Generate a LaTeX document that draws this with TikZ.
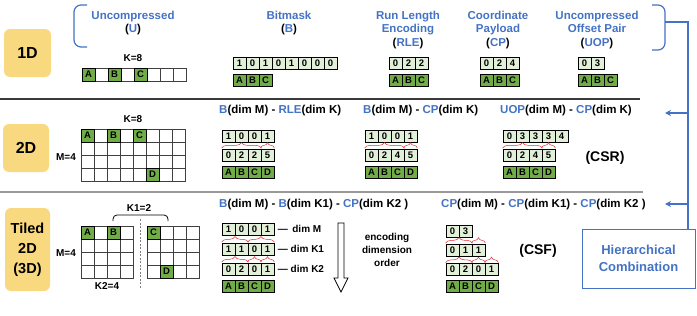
\documentclass[tikz,border=0pt]{standalone}
\usepackage{fontspec}
\setmainfont{Liberation Sans}
\usetikzlibrary{arrows.meta,calc,positioning,decorations.pathreplacing}
\definecolor{ink}{HTML}{4472C4}
\definecolor{leaf}{HTML}{70AD47}
\definecolor{pale}{HTML}{E2F0D9}
\definecolor{sand}{HTML}{F9D97F}
\definecolor{rule}{HTML}{3A3A3A}
\definecolor{link}{HTML}{E03030}
\newcommand\hl[1]{\textcolor{ink}{#1}}
\newcommand\cellrow[5]{\foreach \v [count=\i] in {#5}
  \node[#4] (#1-\i) at ({#2+13*\i-6.5},#3) {\v};}
\newcommand\cellgrid[5]{\foreach \r in {1,...,#5} \foreach \c in {1,...,#4}
  \node[gridcell] (#1-\r-\c) at ({#2+13*\c-6.5},{#3+13*\r-6.5}) {};}
\tikzset{
  fmtbox/.style={fill=sand,rounded corners=6pt,align=center,font=\bfseries\fontsize{16}{20}\selectfont},
  title/.style={anchor=north,align=center,inner sep=0pt,font=\bfseries\fontsize{11.5}{13.5}\selectfont},
  bitcell/.style={draw,fill=pale,minimum width=13pt,minimum height=12pt,inner sep=0pt,line width=.8pt,font=\bfseries\fontsize{9.5}{10}\selectfont},
  valcell/.style={bitcell,fill=leaf},
  gridcell/.style={draw=black!75,minimum size=13pt,inner sep=0pt,line width=.8pt},
  hit/.style={valcell,minimum height=13pt},
  ptr/.style={link,decorate,decoration={brace,amplitude=5.5pt},line width=.5pt},
  small/.style={font=\bfseries\fontsize{10}{13}\selectfont},
  tag/.style={font=\bfseries\fontsize{14}{17}\selectfont},
  feed/.style={ink,line width=1.2pt},
}
\begin{document}
\begin{tikzpicture}[x=1pt,y=-1pt,>={Stealth[length=6pt,width=6pt]}]
\useasboundingbox (0,0) rectangle (697,316);
% 1D
\node[fmtbox,minimum width=47pt,minimum height=48pt] (d1) at (27.5,53) {1D};
\draw[feed,rounded corners=7pt] (87,5) -- (74,5) -- (74,47) -- (87,47);
\node[title] (tu) at (133,10.5) {\hl{Uncompressed}\\(\hl{U})};
\node[title] (tb) at (289,10.5) {\hl{Bitmask}\\(\hl{B})};
\node[title] (tr) at (408,10.5) {\hl{Run Length}\\\hl{Encoding}\\(\hl{RLE})};
\node[title] (tc) at (498,10.5) {\hl{Coordinate}\\\hl{Payload}\\(\hl{CP})};
\node[title] (to) at (597,10.5) {\hl{Uncompressed}\\\hl{Offset Pair}\\(\hl{UOP})};
\draw[feed,rounded corners=7pt] (652,5) -- (665,5) -- (665,50) -- (652,50);
\node[small] (k1d) at (133,58) {K=8};
\cellgrid{ug}{82}{68}{8}{1}
\node[hit] (uA) at (ug-1-1) {A};
\node[hit] (uB) at (ug-1-3) {B};
\node[hit] (uC) at (ug-1-5) {C};
\cellrow{bm}{233}{63}{bitcell}{1,0,1,0,1,0,0,0}
\cellrow{bv}{233}{80}{valcell}{A,B,C}
\cellrow{rl}{389}{63}{bitcell}{0,2,2}
\cellrow{rv}{389}{80}{valcell}{A,B,C}
\cellrow{cp}{480}{63}{bitcell}{0,2,4}
\cellrow{cv}{480}{80}{valcell}{A,B,C}
\cellrow{op}{578}{63}{bitcell}{0,3}
\cellrow{ov}{578}{80}{valcell}{A,B,C}
\draw[rule,line width=1.2pt] (0,99) -- (640,99);
% 2D
\node[fmtbox,minimum width=46pt,minimum height=48pt] (d2) at (26,148) {2D};
\node[small] (k2d) at (133,119) {K=8};
\node[small] (m2d) at (66,157) {M=4};
\cellgrid{mg}{81}{129}{8}{4}
\node[hit] (mA) at (mg-1-1) {A};
\node[hit] (mB) at (mg-1-3) {B};
\node[hit] (mC) at (mg-1-5) {C};
\node[hit] (mD) at (mg-4-6) {D};
\node[title,anchor=west] (t2a) at (219,111) {\hl{B}(dim M) - \hl{RLE}(dim K)};
\cellrow{am}{222}{136}{bitcell}{1,0,0,1}
\cellrow{ak}{222}{155}{bitcell}{0,2,2,5}
\cellrow{av}{222}{172}{valcell}{A,B,C,D}
\draw[ptr] ([yshift=.5pt]ak-1.north west) -- ([yshift=.5pt]ak-3.north east);
\draw[ptr] ([yshift=.5pt]ak-4.north west) -- ([yshift=.5pt]ak-4.north east);
\node[title,anchor=west] (t2b) at (363,111) {\hl{B}(dim M) - \hl{CP}(dim K)};
\cellrow{bm2}{365}{136}{bitcell}{1,0,0,1}
\cellrow{bk}{365}{155}{bitcell}{0,2,4,5}
\cellrow{bv2}{365}{172}{valcell}{A,B,C,D}
\draw[ptr] ([yshift=.5pt]bk-1.north west) -- ([yshift=.5pt]bk-3.north east);
\draw[ptr] ([yshift=.5pt]bk-4.north west) -- ([yshift=.5pt]bk-4.north east);
\node[title,anchor=west] (t2c) at (500,111) {\hl{UOP}(dim M) - \hl{CP}(dim K)};
\cellrow{cm}{503}{136}{bitcell}{0,3,3,3,4}
\cellrow{ck}{503}{155}{bitcell}{0,2,4,5}
\cellrow{cv2}{503}{172}{valcell}{A,B,C,D}
\draw[ptr] ([yshift=.5pt]ck-1.north west) -- ([yshift=.5pt]ck-3.north east);
\draw[ptr] ([yshift=.5pt]ck-4.north west) -- ([yshift=.5pt]ck-4.north east);
\node[tag] (csr) at (605,158) {(CSR)};
\draw[black!40,line width=1.5pt] (0,192) -- (643,192);
% tiled 2D
\node[fmtbox,minimum width=45pt,minimum height=83pt,font=\bfseries\fontsize{14.5}{20}\selectfont] (d3) at (27.5,249.5) {Tiled\\2D\\(3D)};
\node[small] (k13) at (139,208) {K1=2};
\draw[line width=.8pt,rounded corners=4pt] (113,221) -- (113,215) -- (168,215) -- (168,221);
\draw[black!50,line width=.8pt,dash pattern=on 2pt off 1.5pt] (140,219) -- (140,288);
\node[small] (m3) at (66,253) {M=4};
\node[small] (k23) at (107,286) {K2=4};
\cellgrid{lg}{81}{226}{4}{4}
\cellgrid{rg}{147}{226}{4}{4}
\node[hit] (lA) at (lg-1-1) {A};
\node[hit] (lB) at (lg-1-3) {B};
\node[hit] (rC) at (rg-1-1) {C};
\node[hit] (rD) at (rg-4-2) {D};
\node[title,anchor=west] (t3a) at (219,205) {\hl{B}(dim M) - \hl{B}(dim K1) - \hl{CP}(dim K2 )};
\cellrow{tm}{222}{229}{bitcell}{1,0,0,1}
\cellrow{tk}{222}{249}{bitcell}{1,1,0,1}
\cellrow{tj}{222}{269}{bitcell}{0,2,0,1}
\cellrow{tv}{222}{286}{valcell}{A,B,C,D}
\node[small,anchor=west] (lm) at (tm-4.east) {--- \,dim M};
\node[small,anchor=west] (lk1) at (tk-4.east) {--- dim K1};
\node[small,anchor=west] (lk2) at (tj-4.east) {--- dim K2};
\draw[ptr] ([yshift=.5pt]tk-1.north west) -- ([yshift=.5pt]tk-2.north east);
\draw[ptr] ([yshift=.5pt]tk-3.north west) -- ([yshift=.5pt]tk-4.north east);
\draw[ptr] ([yshift=.5pt]tj-1.north west) -- ([yshift=.5pt]tj-2.north east);
\draw[ptr] ([yshift=.5pt]tj-3.north west) -- ([yshift=.5pt]tj-3.north east);
\draw[ptr] ([yshift=.5pt]tj-4.north west) -- ([yshift=.5pt]tj-4.north east);
\draw[line width=.8pt,fill=white] (338,223) -- (344,223) -- (344,278) -- (348,278) -- (341,292) -- (334,278) -- (338,278) -- cycle;
\node[small,align=center] (enc) at (387,250) {encoding\\dimension\\order};
\node[title,anchor=west] (t3b) at (441,205) {\hl{CP}(dim M) - \hl{CP}(dim K1) - \hl{CP}(dim K2 )};
\cellrow{fm}{446}{231}{bitcell}{0,3}
\cellrow{fk}{446}{250}{bitcell}{0,1,1}
\cellrow{fj}{446}{269.5}{bitcell}{0,2,0,1}
\cellrow{fv}{446}{286.5}{valcell}{A,B,C,D}
\draw[ptr] ([yshift=.5pt]fk-1.north west) -- ([yshift=.5pt]fk-2.north east);
\draw[ptr] ([yshift=.5pt]fk-3.north west) -- ([yshift=.5pt]fk-3.north east);
\draw[ptr] ([yshift=.5pt]fj-1.north west) -- ([yshift=.5pt]fj-2.north east);
\draw[ptr] ([yshift=.5pt]fj-3.north west) -- ([yshift=.5pt]fj-3.north east);
\draw[ptr] ([yshift=.5pt]fj-4.north west) -- ([yshift=.5pt]fj-4.north east);
\node[tag] (csf) at (538,251) {(CSF)};
% combination
\node[draw=ink,line width=1pt,minimum width=113pt,minimum height=59pt,text=ink,align=center,font=\bfseries\fontsize{13}{17}\selectfont] (hier) at (638.5,258.5) {Hierarchical\\Combination};
\coordinate (br) at (665,22);
\coordinate (bend) at (688,22);
\coordinate (j2) at (688,113);
\coordinate (e2) at (665,113);
\coordinate (j3) at (688,204);
\coordinate (e3) at (665,204);
\draw[feed] (br) -- (bend) -- (bend |- hier.north);
\draw[feed,->] (j2) -- (e2);
\draw[feed,->] (j3) -- (e3);
\end{tikzpicture}
\end{document}
